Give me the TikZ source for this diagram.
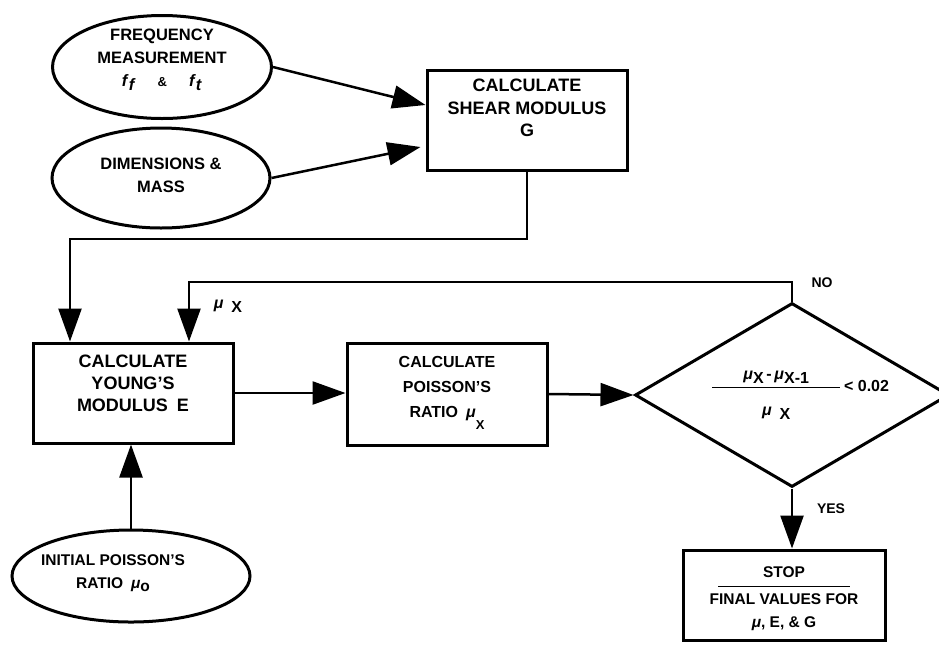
\documentclass[tikz,border=0pt]{standalone}
\usepackage{fontspec}
\setmainfont{Liberation Sans}
\usetikzlibrary{shapes.geometric, arrows.meta}

\newcommand{\mug}{\textit{μ}}
\newcommand{\lowx}[2][0.45ex]{\raisebox{-#1}{#2}}

\begin{document}
\begin{tikzpicture}[x=1pt, y=-1pt,
    every node/.style={font=\bfseries},
    flow/.style={draw, line width=3pt, inner sep=0pt},
    box/.style={flow, rectangle},
    oval/.style={flow, ellipse},
    decision/.style={flow, diamond},
    txt/.style={align=center, inner sep=0pt},
    arr/.style={line width=2.5pt, -{Triangle[length=33pt, width=23pt]}}]
    \useasboundingbox (0,0) rectangle (939,649);

    \node[oval, minimum width=219, minimum height=103,
        label={[txt, font=\bfseries\fontsize{16.5}{23}\selectfont, yshift=7pt]center:{FREQUENCY\\MEASUREMENT\\
        \textit{f}\lowx{\textit{f}}\hspace{22pt}{\fontsize{13}{13}\selectfont\&}\hspace{22pt}\textit{f}\lowx{\textit{t}}}}] (freq) at (162,67) {};
    \node[oval, minimum width=218, minimum height=100,
        label={[txt, font=\bfseries\fontsize{16.5}{23}\selectfont, yshift=3pt]center:{DIMENSIONS \&\\MASS}}] (dims) at (161,178) {};
    \node[box, minimum width=200, minimum height=100,
        label={[txt, font=\bfseries\fontsize{18}{22.5}\selectfont, yshift=12pt]center:{CALCULATE\\SHEAR MODULUS\\G}}] (shear) at (527,120) {};
    \node[box, minimum width=200, minimum height=100,
        label={[txt, font=\bfseries\fontsize{18}{22}\selectfont, yshift=10pt]center:{CALCULATE\\YOUNG'S\\MODULUS\enspace E}}] (young) at (133,393) {};
    \node[box, minimum width=200, minimum height=102,
        label={[txt, font=\bfseries\fontsize{16}{25}\selectfont, yshift=1pt]center:{CALCULATE\\POISSON'S\\RATIO\enspace\mug\lowx[1.4ex]{\fontsize{13}{13}\selectfont X}}}] (poisson) at (447,394) {};
    \node[decision, minimum width=314, minimum height=184] (crit) at (792,395) {};
    \node[txt, font=\bfseries\fontsize{16}{20}\selectfont] (crittxt) at ([xshift=8pt]crit.center)
        {$\displaystyle{\hbox to 128pt{\hss\mug\lowx{X}\,-\,\mug\lowx{X-1}\hss}\above 1.2pt
        \hbox{\rule{0pt}{24pt}\mug\hspace{8pt}\lowx{X}}}$\hbox{\,< 0.02}};
    \node[box, minimum width=202, minimum height=90,
        label={[txt, font=\bfseries\fontsize{15.5}{20}\selectfont, yshift=-4pt]center:{STOP\\[-11pt]\rule{132pt}{1pt}\\[-2pt]FINAL VALUES FOR\\[3pt]\mug, E, \& G}}] (stop) at (784,595) {};
    \node[oval, minimum width=238, minimum height=92,
        label={[txt, font=\bfseries\fontsize{15.5}{23}\selectfont, xshift=-18pt, yshift=3pt]center:{INITIAL POISSON'S\\RATIO\enspace\mug\lowx{o}}}] (init) at (131,576) {};

    \node[font=\bfseries\fontsize{14}{14}\selectfont] (no) at (822,283) {NO};
    \node[font=\bfseries\fontsize{14}{14}\selectfont] (yes) at (831,509) {YES};
    \node[font=\bfseries\fontsize{16}{16}\selectfont] (mulab) at (228,306) {\mug\hspace{8pt}\lowx{X}};

    \coordinate (gturn) at (70,239);
    \coordinate (noturn) at (792,282);

    \draw[arr] (freq.east) -- ([yshift=15pt]shear.west);
    \draw[arr] (dims.east) -- ([xshift=-5pt, yshift=-27pt]shear.west);
    \draw[arr] (shear.south) |- (gturn) -- (gturn |- young.north);
    \draw[arr] (crit.north) -- (noturn) -| ([xshift=56pt]young.north);
    \draw[arr] (young.east) -- (young.east -| poisson.west);
    \draw[arr] (poisson.east) -- (crit.west);
    \draw[arr] (crit.south) -- (crit.south |- stop.north);
    \draw[arr] (init.north) -- (init.north |- young.south);
\end{tikzpicture}
\end{document}
